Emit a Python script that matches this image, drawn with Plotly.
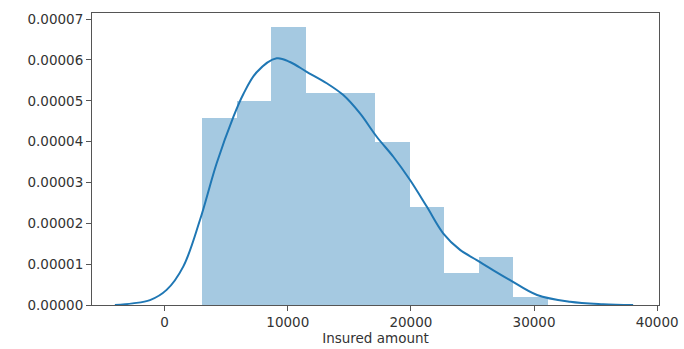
import plotly.graph_objects as go

# Histogram (density) of insured amount
bin_edges = [3030, 5841, 8652, 11463, 14274, 17085, 19896, 22707, 25518, 28329, 31140]
bin_density = [4.59e-5, 5.00e-5, 6.81e-5, 5.18e-5, 5.18e-5, 4.00e-5, 2.39e-5, 0.78e-5, 1.18e-5, 0.19e-5]

# KDE curve
kde_x = [-4040, -2600, -1190, 160, 1510, 2868, 4225, 5574, 6386, 7475, 9100, 10181,
         11537, 13162, 14511, 15868, 17225, 18573, 19930, 21287, 22636, 23993, 25349,
         26700, 28055, 30248, 32930, 35610, 38048]
kde_y = [0.0, 0.04e-5, 0.12e-5, 0.37e-5, 0.94e-5, 2.08e-5, 3.47e-5, 4.60e-5, 5.16e-5,
         5.70e-5, 6.04e-5, 5.95e-5, 5.71e-5, 5.43e-5, 5.14e-5, 4.69e-5, 4.12e-5, 3.63e-5,
         3.06e-5, 2.41e-5, 1.75e-5, 1.35e-5, 1.10e-5, 0.85e-5, 0.61e-5, 0.245e-5, 0.08e-5,
         0.02e-5, 0.0]

x_ticks = [0, 10000, 20000, 30000, 40000]
y_ticks = [0, 0.00001, 0.00002, 0.00003, 0.00004, 0.00005, 0.00006, 0.00007]
x_title = "Insured amount"

centers = [(a + b) / 2 for a, b in zip(bin_edges[:-1], bin_edges[1:])]
widths = [b - a for a, b in zip(bin_edges[:-1], bin_edges[1:])]

fig = go.Figure()
fig.add_trace(go.Bar(
    x=centers, y=bin_density, width=widths,
    marker=dict(color="rgba(31,119,180,0.4)", line=dict(width=0)),
    hoverinfo="skip",
))
fig.add_trace(go.Scatter(
    x=kde_x, y=kde_y, mode="lines",
    line=dict(color="#1f77b4", width=2, shape="spline", smoothing=1.0),
    hoverinfo="skip",
))

font = dict(family="DejaVu Sans", size=13.5, color="#333333")
fig.update_layout(
    width=684, height=349,
    margin=dict(l=92, r=25, t=13, b=44),
    paper_bgcolor="white", plot_bgcolor="white",
    showlegend=False, bargap=0,
    font=font,
)
fig.update_xaxes(
    range=[-5900, 40150], tickvals=x_ticks, tickformat="d",
    showline=True, linecolor="#555555", linewidth=1, mirror=True,
    ticks="outside", ticklen=5, tickcolor="#555555",
    showgrid=False, zeroline=False, tickfont=font,
    title=dict(text=x_title, font=font, standoff=2),
    automargin=False,
)
fig.update_yaxes(
    range=[0, 0.0000715], tickvals=y_ticks, tickformat=".5f",
    showline=True, linecolor="#555555", linewidth=1, mirror=True,
    ticks="outside", ticklen=5, tickcolor="#555555",
    showgrid=False, zeroline=False, tickfont=font,
    automargin=False,
)

fig.write_html("out.html", config={"displayModeBar": False},
               post_script="document.body.style.margin='0';document.body.style.overflow='hidden';")
